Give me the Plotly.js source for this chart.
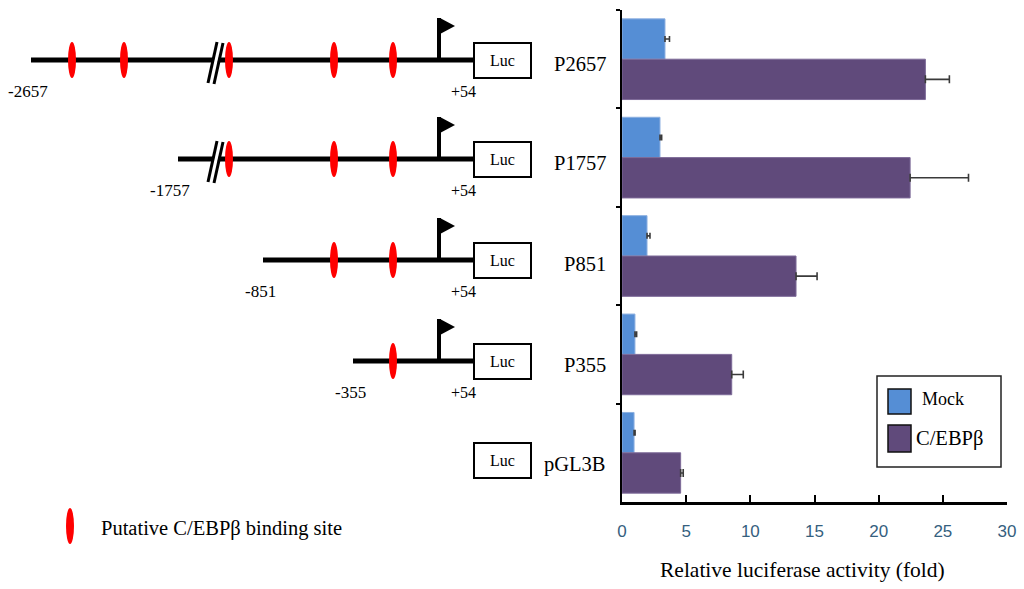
<!DOCTYPE html>
<html>
<head>
<meta charset="utf-8">
<script src="https://cdn.plot.ly/plotly-3.0.1.min.js"></script>
<style>html,body{margin:0;padding:0;background:#fff;}#chart{width:1024px;height:589px;}</style>
</head>
<body>
<div id="chart"></div>
<script>
// ---- data ----
var categories = ['P2657', 'P1757', 'P851', 'P355', 'pGL3B'];
var mockValues = [3.35, 2.96, 1.95, 1.01, 0.94];
var mockErrors = [0.35, 0.13, 0.23, 0.13, 0.08];
var cebpValues = [23.64, 22.45, 13.56, 8.55, 4.57];
var cebpErrors = [1.87, 4.55, 1.64, 0.90, 0.20];
var xTickValues = [0, 5, 10, 15, 20, 25, 30];
var seriesNames = ['Mock', 'C/EBPβ'];
var startLabels = ['-2657', '-1757', '-851', '-355', ''];
var endLabel = '+54';
var siteCounts = [5, 3, 2, 1, 0];

// ---- diagram layout (pixel units of the hidden overlay axes) ----
var diag = {
  rowY: [60, 159, 260, 361, 460],
  lineStart: [31, 178, 263, 353, null],
  startLabelX: [28, 170, 260, 350, null],
  sitePositions: [72, 124, 229, 334, 393],
  breakX: 215,
  hasBreak: [true, true, false, false, false],
  tssX: 439,
  boxX0: 474, boxX1: 531,
  labelRight: 608
};
var serif = 'Liberation Serif, Times New Roman, serif';
var colors = ['#558ED5', '#604A7B'];

var traces = [
  {
    type: 'bar', orientation: 'h', name: seriesNames[0],
    y: categories, x: mockValues,
    marker: {color: colors[0], line: {color: '#8DB0E0', width: 1}},
    error_x: {type: 'data', array: mockErrors, arrayminus: mockErrors.map(function(){return 0;}), symmetric: false, color: '#3a3a3a', thickness: 1.6, width: 3},
    xaxis: 'x', yaxis: 'y', showlegend: false
  },
  {
    type: 'bar', orientation: 'h', name: seriesNames[1],
    y: categories, x: cebpValues,
    marker: {color: colors[1], line: {color: '#7D6A98', width: 1}},
    error_x: {type: 'data', array: cebpErrors, arrayminus: cebpErrors.map(function(){return 0;}), symmetric: false, color: '#3a3a3a', thickness: 1.6, width: 4},
    xaxis: 'x', yaxis: 'y', showlegend: false
  },
  // invisible anchor trace for overlay axes
  {type: 'scatter', x: [0], y: [0], mode: 'markers', marker: {opacity: 0}, xaxis: 'x2', yaxis: 'y2', showlegend: false, hoverinfo: 'skip'}
];

var shapes = [];
var annotations = [];
function L(x0, y0, x1, y1, w, c) {
  shapes.push({type: 'line', xref: 'x2', yref: 'y2', x0: x0, y0: y0, x1: x1, y1: y1, line: {color: c || 'black', width: w}});
}
function T(text, x, y, size, xanchor, color, family) {
  annotations.push({text: text, xref: 'x2', yref: 'y2', x: x, y: y, showarrow: false,
    xanchor: xanchor || 'center', yanchor: 'middle',
    font: {family: family || serif, size: size, color: color || 'black'}});
}

categories.forEach(function(cat, i) {
  var y = diag.rowY[i];
  if (diag.lineStart[i] !== null) {
    // main line
    L(diag.lineStart[i], y, diag.boxX0, y, 5);
    // break mark
    if (diag.hasBreak[i]) {
      var bx = diag.breakX;
      L(bx - 4, y + 23, bx + 5, y - 18, 4, 'white');
      L(bx - 7, y + 23, bx + 2, y - 18, 3);
      L(bx - 1, y + 24, bx + 8, y - 17, 3);
    }
    // binding sites
    var sites = diag.sitePositions.slice(diag.sitePositions.length - siteCounts[i]);
    sites.forEach(function(sx) {
      shapes.push({type: 'circle', xref: 'x2', yref: 'y2', x0: sx - 4, x1: sx + 4, y0: y - 18, y1: y + 18,
        fillcolor: '#FF0000', line: {width: 0}});
    });
    // TSS flag
    L(diag.tssX, y, diag.tssX, y - 42, 4);
    shapes.push({type: 'path', xref: 'x2', yref: 'y2',
      path: 'M ' + (diag.tssX + 1) + ' ' + (y - 42) + ' L ' + (diag.tssX + 16) + ' ' + (y - 34) + ' L ' + (diag.tssX + 1) + ' ' + (y - 26) + ' Z',
      fillcolor: 'black', line: {width: 0}});
    // labels
    T(startLabels[i], diag.startLabelX[i], y + 31, 17);
    T(endLabel, 463, y + 31, 16);
  }
  // Luc box
  shapes.push({type: 'rect', xref: 'x2', yref: 'y2', x0: diag.boxX0, x1: diag.boxX1, y0: y - 17, y1: y + 18,
    fillcolor: 'white', line: {color: 'black', width: 2}});
  T('Luc', (diag.boxX0 + diag.boxX1) / 2, y, 16);
  // construct label
  T(cat, diag.labelRight, y + 4, 20.5, 'right');
});

// site key
shapes.push({type: 'circle', xref: 'x2', yref: 'y2', x0: 66, x1: 74, y0: 508, y1: 544, fillcolor: '#FF0000', line: {width: 0}});
T('Putative C/EBPβ binding site', 99, 528, 20.5, 'left');

// legend box
shapes.push({type: 'rect', xref: 'x2', yref: 'y2', x0: 877, x1: 1001, y0: 376, y1: 467, fillcolor: 'white', line: {color: '#222', width: 1.5}});
shapes.push({type: 'rect', xref: 'x2', yref: 'y2', x0: 888, x1: 911, y0: 389, y1: 414, fillcolor: colors[0], line: {color: '#111', width: 1.5}});
shapes.push({type: 'rect', xref: 'x2', yref: 'y2', x0: 888, x1: 911, y0: 425, y1: 452, fillcolor: colors[1], line: {color: '#111', width: 1.5}});
T(seriesNames[0], 920, 399, 18, 'left');
T(seriesNames[1], 914, 438, 20.5, 'left');

// x axis title
T('Relative luciferase activity (fold)', 802, 570, 21.5);

var W = 1024, H = 589;
var layout = {
  width: W, height: H,
  margin: {l: 0, r: 0, t: 0, b: 0},
  paper_bgcolor: 'white', plot_bgcolor: 'rgba(0,0,0,0)',
  barmode: 'group', bargap: 0.18, bargroupgap: 0,
  showlegend: false,
  xaxis: {
    domain: [622 / W, 1007 / W], range: [0, 30], anchor: 'y',
    tickvals: xTickValues, ticks: 'inside', ticklen: 7, tickwidth: 2, tickcolor: 'black',
    showline: true, linecolor: 'black', linewidth: 2.5, showgrid: false, zeroline: false,
    ticklabelstandoff: 12,
    tickfont: {family: 'Liberation Sans Narrow, Arial Narrow, Liberation Sans, sans-serif', size: 17, color: '#35607e'},
    automargin: false, fixedrange: true
  },
  yaxis: {
    domain: [1 - 502 / H, 1 - 10 / H], anchor: 'x',
    type: 'category', categoryarray: categories, categoryorder: 'array', autorange: 'reversed',
    showticklabels: false, ticks: 'outside', ticklen: 4, tickwidth: 2, tickcolor: 'black', tickson: 'boundaries',
    showline: true, linecolor: 'black', linewidth: 2.5, showgrid: false, zeroline: false,
    automargin: false, fixedrange: true
  },
  xaxis2: {domain: [0, 1], range: [0, W], anchor: 'y2', visible: false, fixedrange: true},
  yaxis2: {domain: [0, 1], range: [H, 0], anchor: 'x2', visible: false, fixedrange: true},
  shapes: shapes,
  annotations: annotations
};

Plotly.newPlot('chart', traces, layout, {staticPlot: true, displayModeBar: false});
</script>
</body>
</html>
